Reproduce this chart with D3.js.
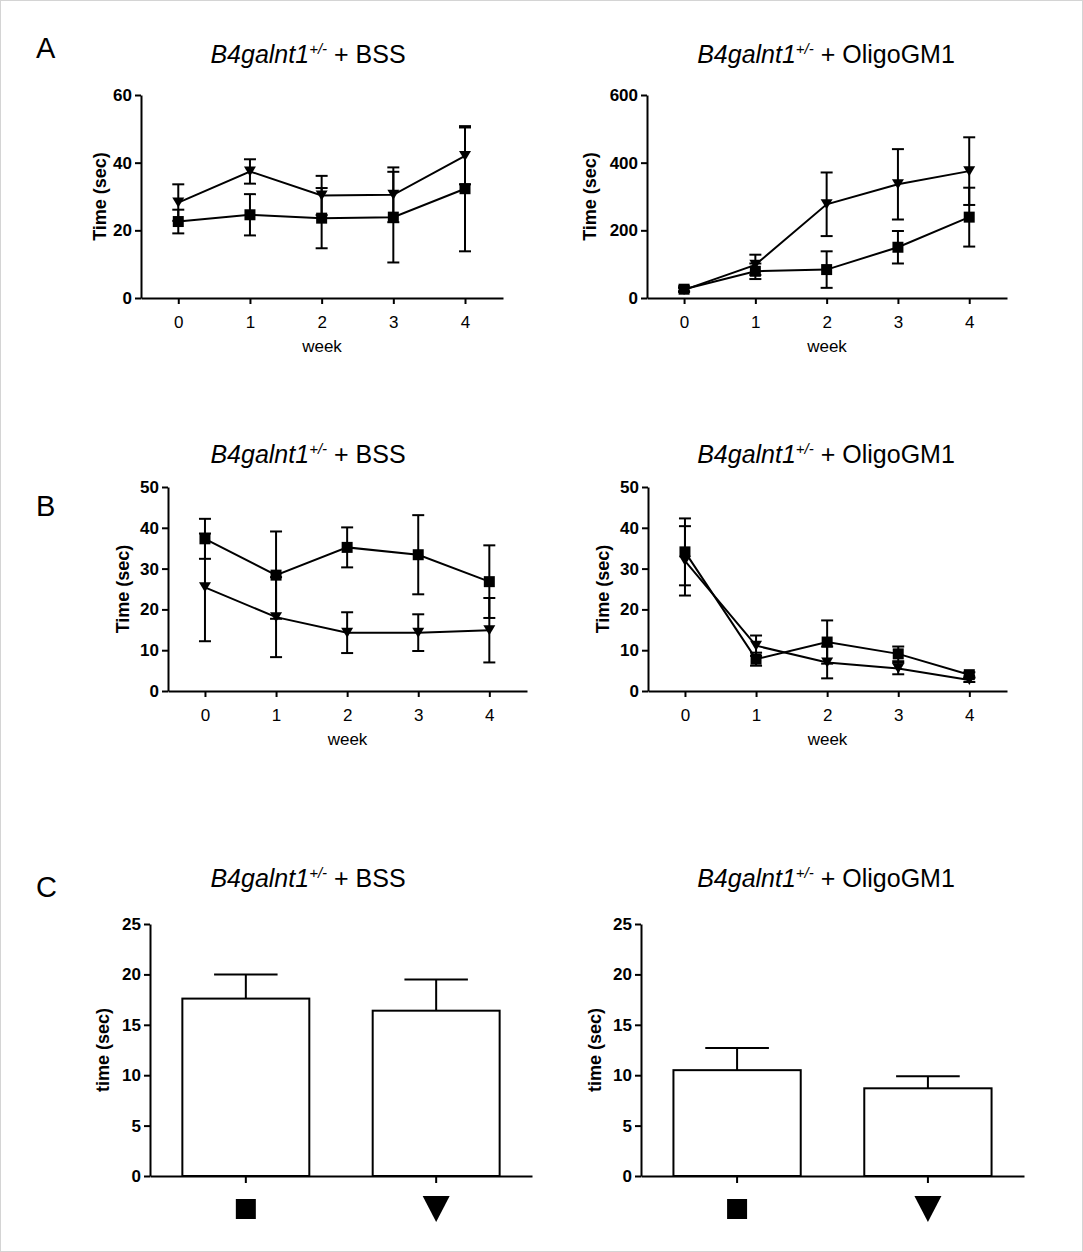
<!DOCTYPE html>
<html>
<head>
<meta charset="utf-8">
<script src="https://cdn.jsdelivr.net/npm/d3@7"></script>
<style>
body{margin:0;background:#fff}
svg{display:block}
text{font-family:"Liberation Sans",Arial,sans-serif;fill:#000}
.axis path,.axis line{stroke:#000;stroke-width:2}
.axis text{font-family:"Liberation Sans",Arial,sans-serif;fill:#000}
</style>
</head>
<body>
<svg id="fig" width="1083" height="1252"></svg>
<script>
// values
let weeks = [0, 1, 2, 3, 4]
let groups = ["square", "triangle"]

let yTicksA_BSS = [0, 20, 40, 60]
let yTicksA_Oligo = [0, 200, 400, 600]
let yTicksB = [0, 10, 20, 30, 40, 50]
let yTicksC = [0, 5, 10, 15, 20, 25]

let aBssSquare = [22.6, 24.6, 23.6, 23.9, 32.3]
let aBssSquareErr = [3.5, 6.1, 8.9, 13.4, 18.5]
let aBssTriangle = [28.2, 37.4, 30.3, 30.5, 42.0]
let aBssTriangleErr = [5.4, 3.6, 5.8, 8.1, 8.4]

let aOligoSquare = [26, 79, 84, 150, 239]
let aOligoSquareErr = [6, 23, 54, 48, 87]
let aOligoTriangle = [24, 98, 277, 336, 375]
let aOligoTriangleErr = [6, 30, 94, 104, 100]

let bBssSquare = [37.3, 28.4, 35.2, 33.4, 26.8]
let bBssSquareErr = [4.9, 10.7, 4.9, 9.7, 8.9]
let bBssTriangle = [25.4, 18.1, 14.3, 14.3, 14.9]
let bBssTriangleErr = [13.2, 9.8, 5.0, 4.5, 7.9]

let bOligoSquare = [34.1, 7.8, 12.0, 9.1, 4.0]
let bOligoSquareErr = [8.2, 1.6, 5.3, 1.8, 0.6]
let bOligoTriangle = [31.9, 11.1, 7.0, 5.5, 2.7]
let bOligoTriangleErr = [8.5, 2.5, 3.9, 1.4, 0.5]

let cBssMean = [17.6, 16.4]
let cBssErr = [2.4, 3.1]
let cOligoMean = [10.5, 8.7]
let cOligoErr = [2.2, 1.2]

let genotype = "B4galnt1"
let genotypeSup = "+/-"
let bssLabel = " + BSS"
let oligoLabel = " + OligoGM1"
let panelLetters = ["A", "B", "C"]

let svg = d3.select("#fig")

svg.append("rect")
    .attr("x", 0.5).attr("y", 0.5)
    .attr("width", 1082).attr("height", 1251)
    .attr("fill", "#fff")
    .attr("stroke", "#d4d4d4")

let squareMark = s => `M${-s/2},${-s/2}h${s}v${s}h${-s}Z`
let triangleMark = (w, h) => `M${-w/2},${-h/2}L${w/2},${-h/2}L0,${h/2}Z`

function title(cx, y, rest){
    let t = svg.append("text")
        .attr("x", cx).attr("y", y)
        .attr("text-anchor", "middle")
        .attr("font-size", 25)
    t.append("tspan").attr("font-style", "italic").text(genotype)
    t.append("tspan").attr("font-style", "italic").attr("font-size", 15).attr("dy", -9).text(genotypeSup)
    t.append("tspan").attr("dy", 9).text(rest)
}

function yAxis(g, y, ticks, labelX, label){
    g.append("g")
        .attr("class", "axis")
        .attr("transform", `translate(${y.x0},0)`)
        .call(d3.axisLeft(y).tickValues(ticks).tickSize(6).tickPadding(3).tickSizeOuter(0))
        .selectAll("text")
            .attr("font-size", 17)
            .attr("font-weight", "bold")
    let [yb, yt] = y.range()
    g.append("text")
        .attr("transform", `translate(${labelX},${(yb+yt)/2}) rotate(-90)`)
        .attr("text-anchor", "middle")
        .attr("font-size", 18)
        .attr("font-weight", "bold")
        .text(label)
}

let LinePanel = function(box, yMax, ticks, sq, sqErr, tri, triErr){
    let g = svg.append("g")

    let x = d3.scaleLinear()
        .domain([-0.52, 4.53])
        .range([box.x0, box.x1])

    let y = d3.scaleLinear()
        .domain([0, yMax])
        .range([box.yBot, box.yTop])
    y.x0 = box.x0

    g.append("g")
        .attr("class", "axis")
        .attr("transform", `translate(0,${box.yBot})`)
        .call(d3.axisBottom(x).tickValues(weeks).tickFormat(d3.format("d"))
            .tickSize(6).tickPadding(12).tickSizeOuter(0))
        .selectAll("text")
            .attr("font-size", 17)

    yAxis(g, y, ticks, box.yLab, "Time (sec)")

    g.append("text")
        .attr("x", (box.x0 + box.x1) / 2)
        .attr("y", box.yBot + 54)
        .attr("text-anchor", "middle")
        .attr("font-size", 17)
        .text("week")

    let series = [
        {v: sq, e: sqErr, mark: squareMark(11)},
        {v: tri, e: triErr, mark: triangleMark(12, 10)}
    ]

    let line = d3.line()
        .x((d, i) => x(weeks[i]))
        .y(d => y(d))

    series.forEach(s => {
        g.append("path")
            .attr("d", line(s.v))
            .attr("fill", "none")
            .attr("stroke", "#000")
            .attr("stroke-width", 2)

        let eb = g.selectAll(null)
            .data(s.v.map((d, i) => ({w: weeks[i], m: d, e: s.e[i]})))
            .enter()
            .append("g")
            .attr("stroke", "#000")
            .attr("stroke-width", 2)
        eb.append("line")
            .attr("x1", d => x(d.w)).attr("x2", d => x(d.w))
            .attr("y1", d => y(d.m - d.e)).attr("y2", d => y(d.m + d.e))
        eb.append("line")
            .attr("x1", d => x(d.w) - 6).attr("x2", d => x(d.w) + 6)
            .attr("y1", d => y(d.m + d.e)).attr("y2", d => y(d.m + d.e))
        eb.append("line")
            .attr("x1", d => x(d.w) - 6).attr("x2", d => x(d.w) + 6)
            .attr("y1", d => y(d.m - d.e)).attr("y2", d => y(d.m - d.e))
    })

    series.forEach(s => {
        g.selectAll(null)
            .data(s.v)
            .enter()
            .append("path")
            .attr("d", s.mark)
            .attr("transform", (d, i) => `translate(${x(weeks[i])},${y(d)})`)
            .attr("fill", "#000")
    })
}

let BarPanel = function(box, means, errs){
    let g = svg.append("g")

    let x = d3.scaleBand()
        .domain(groups)
        .range([box.x0, box.x1])
        .paddingInner(0.333)
        .paddingOuter(0.17)

    let y = d3.scaleLinear()
        .domain([0, 25])
        .range([box.yBot, box.yTop])
    y.x0 = box.x0

    let data = groups.map((k, i) => ({k: k, m: means[i], e: errs[i]}))
    let bw = x.bandwidth()

    g.selectAll(".err")
        .data(data)
        .enter()
        .append("path")
        .attr("d", d => {
            let cx = x(d.k) + bw / 2
            return `M${cx},${y(d.m)}V${y(d.m + d.e)}M${cx - bw/4},${y(d.m + d.e)}H${cx + bw/4}`
        })
        .attr("stroke", "#000")
        .attr("stroke-width", 2)
        .attr("fill", "none")

    g.selectAll(".bar")
        .data(data)
        .enter()
        .append("rect")
        .attr("x", d => x(d.k))
        .attr("y", d => y(d.m))
        .attr("width", bw)
        .attr("height", d => y(0) - y(d.m))
        .attr("fill", "#fff")
        .attr("stroke", "#000")
        .attr("stroke-width", 2)

    g.append("g")
        .attr("class", "axis")
        .attr("transform", `translate(0,${box.yBot})`)
        .call(d3.axisBottom(x).tickSize(7).tickSizeOuter(0).tickFormat(""))

    yAxis(g, y, yTicksC, box.yLab, "time (sec)")

    g.selectAll(".cat")
        .data(groups)
        .enter()
        .append("path")
        .attr("d", k => k == "square" ? squareMark(20) : triangleMark(27, 26))
        .attr("transform", k => `translate(${x(k) + bw/2},${box.yBot + 33})`)
        .attr("fill", "#000")
}

// panel letters
panelLetters.forEach((l, i) => {
    svg.append("text")
        .attr("x", 36)
        .attr("y", [58, 516, 897][i])
        .attr("font-size", 29)
        .text(l)
})

title(308, 63, bssLabel)
title(826, 63, oligoLabel)
title(308, 463, bssLabel)
title(826, 463, oligoLabel)
title(308, 887, bssLabel)
title(826, 887, oligoLabel)

LinePanel({x0: 141, x1: 503, yTop: 95, yBot: 298, yLab: 106}, 60, yTicksA_BSS,
    aBssSquare, aBssSquareErr, aBssTriangle, aBssTriangleErr)
LinePanel({x0: 647, x1: 1007, yTop: 95, yBot: 298, yLab: 596}, 600, yTicksA_Oligo,
    aOligoSquare, aOligoSquareErr, aOligoTriangle, aOligoTriangleErr)
LinePanel({x0: 168, x1: 527, yTop: 487, yBot: 691, yLab: 129}, 50, yTicksB,
    bBssSquare, bBssSquareErr, bBssTriangle, bBssTriangleErr)
LinePanel({x0: 648, x1: 1007, yTop: 487, yBot: 691, yLab: 609}, 50, yTicksB,
    bOligoSquare, bOligoSquareErr, bOligoTriangle, bOligoTriangleErr)

BarPanel({x0: 150, x1: 532, yTop: 924, yBot: 1176, yLab: 109}, cBssMean, cBssErr)
BarPanel({x0: 641, x1: 1024, yTop: 924, yBot: 1176, yLab: 601}, cOligoMean, cOligoErr)
</script>
</body>
</html>
